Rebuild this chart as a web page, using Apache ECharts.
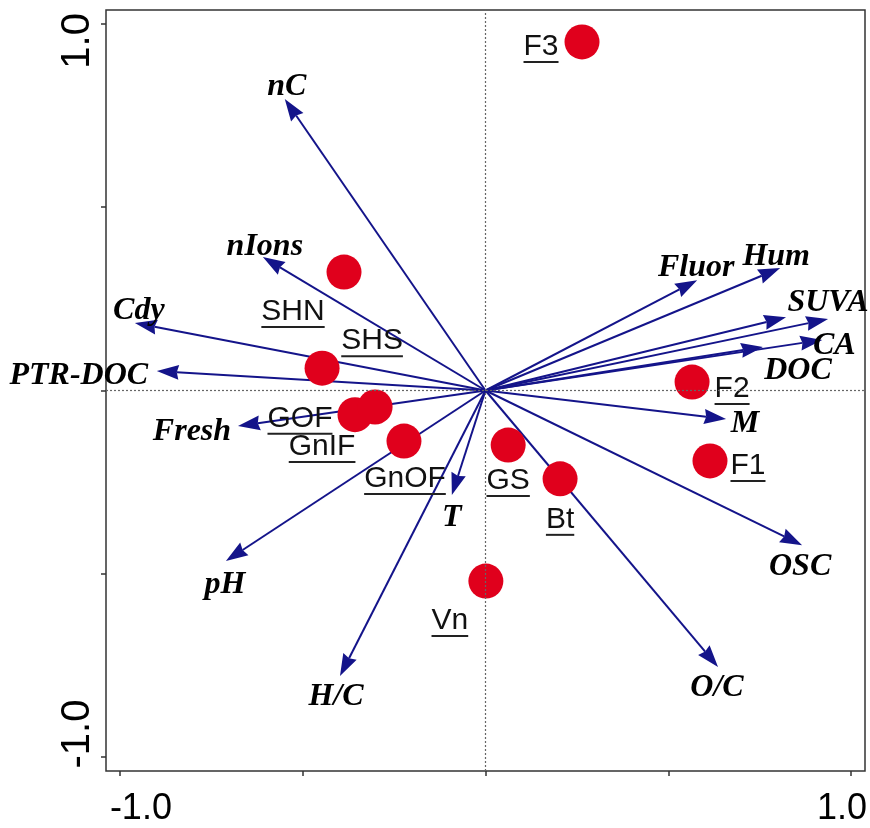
<!DOCTYPE html>
<html><head><meta charset="utf-8">
<script src="https://cdn.jsdelivr.net/npm/echarts@6/dist/echarts.min.js"></script>
<style>html,body{margin:0;padding:0;background:#fff}#c{width:870px;height:828px}</style>
</head><body><div id="c"></div>
<script>
// ---- data ----
const varNames = ['nC','nIons','Cdy','PTR-DOC','Fresh','pH','H/C','T','O/C','OSC','M','DOC','CA','SUVA','','Hum','Fluor'];
const varX = [-0.549,-0.609,-0.959,-0.899,-0.677,-0.710,-0.398,-0.092,0.636,0.866,0.658,0.759,0.921,0.937,0.822,0.806,0.579];
const varY = [0.795,0.364,0.184,0.053,-0.097,-0.465,-0.779,-0.285,-0.754,-0.422,-0.078,0.119,0.138,0.195,0.200,0.334,0.301];

const sampleNames = ['F3','SHN','SHS','GOF','GnIF','GnOF','GS','Bt','Vn','F2','F1'];
const sampleX = [0.264,-0.387,-0.447,-0.357,-0.302,-0.223,0.062,0.204,0.001,0.565,0.614];
const sampleY = [0.951,0.323,0.061,-0.066,-0.045,-0.138,-0.149,-0.241,-0.520,0.023,-0.192];

const tickValues = [-1,-0.5,0,0.5,1];
const tickLabelValues = [-1,1];

// ---- label layout (pixel offsets from mark) ----
const varLabelOffset = [[2,-12],[2,-10],[4,-12],[-78,5],[-46,6],[-1,24],[-4,21],[0,23],[-1,21],[-2,22],[19,5],[35,24],[12,6],[0,-16],[0,0],[-4,-11],[-1,-12]];
const sampleLabelOffset = [[-41,5],[-51,40],[50,-27],[-55,4],[-53,40],[1,38],[0,36],[0,41],[-36,40],[40,7],[38,5]];

const ARROW = '#14148a', RED = '#e0001c';
const varFont = 'italic bold 32px "Liberation Serif", "Times New Roman", serif';
const sampleFont = '30px "Liberation Sans", Arial, sans-serif';

const mctx = document.createElement('canvas').getContext('2d');
function textW(t, f){ mctx.font = f; return mctx.measureText(t).width; }

const chart = echarts.init(document.getElementById('c'), null, {renderer:'canvas'});

const axisCommon = {
  type:'value', min:-1.038, max:1.038,
  axisLine:{show:false, onZero:false}, splitLine:{show:false},
  axisTick:{show:true, inside:false, length:5, customValues:tickValues, lineStyle:{color:'#333', width:1.5}}
};

const option = {
  animation:false,
  backgroundColor:'#fff',
  grid:{left:106, right:5, top:10, bottom:57, show:true, borderColor:'#333', borderWidth:1.5, containLabel:false, outerBoundsMode:'none'},
  xAxis: Object.assign({}, axisCommon, {
    position:'bottom',
    axisLabel:{customValues:tickLabelValues, margin:20,
      formatter: v => v < 0 ? '{a|' + v.toFixed(1) + '}' : '{b|' + v.toFixed(1) + '}',
      rich:{
        a:{fontSize:36, fontFamily:'"Liberation Sans", Arial, sans-serif', color:'#000', padding:[0,0,0,42]},
        b:{fontSize:36, fontFamily:'"Liberation Sans", Arial, sans-serif', color:'#000', padding:[0,18,0,0]}
      }}
  }),
  yAxis: Object.assign({}, axisCommon, {
    position:'left',
    axisLabel:{customValues:tickLabelValues, margin:8, rotate:90,
      formatter: v => v < 0 ? '{a|' + v.toFixed(1) + '}' : '{b|' + v.toFixed(1) + '}',
      rich:{
        a:{fontSize:40, fontFamily:'"Liberation Sans", Arial, sans-serif', color:'#000', padding:[0,0,0,46]},
        b:{fontSize:40, fontFamily:'"Liberation Sans", Arial, sans-serif', color:'#000', padding:[0,34,0,0]}
      }}
  }),
  series:[
    {
      type:'custom', z:2, silent:true,
      data: varX.map((x,i)=>[x, varY[i]]),
      renderItem(params, api){
        const i = params.dataIndex;
        const o = api.coord([0,0]);
        const t = api.coord([api.value(0), api.value(1)]);
        const dx = t[0]-o[0], dy = t[1]-o[1];
        const len = Math.sqrt(dx*dx+dy*dy);
        const ux = dx/len, uy = dy/len;
        const L = 22, W = 15;
        const bx = t[0]-ux*L, by = t[1]-uy*L;
        const px = -uy*W/2, py = ux*W/2;
        const off = varLabelOffset[i];
        const children = [
          {type:'line', shape:{x1:o[0], y1:o[1], x2:bx+ux*2, y2:by+uy*2}, style:{stroke:ARROW, lineWidth:2}},
          {type:'polygon', shape:{points:[[t[0],t[1]],[bx+px,by+py],[bx+ux*2,by+uy*2],[bx-px,by-py]]}, style:{fill:ARROW}}
        ];
        if (varNames[i]) children.push({type:'text', style:{text:varNames[i], x:t[0]+off[0], y:t[1]+off[1], align:'center', verticalAlign:'middle', font:varFont, fill:'#000'}});
        return {type:'group', children};
      }
    },
    {
      type:'scatter', z:3, silent:true,
      data: sampleX.map((x,i)=>[x, sampleY[i]]),
      symbol:'circle', symbolSize:35,
      itemStyle:{color:RED, opacity:1},
      markLine:{silent:true, symbol:'none', label:{show:false},
        lineStyle:{color:'#666', width:1.2, type:[2,2]},
        data:[{xAxis:0},{yAxis:0}]}
    },
    {
      type:'custom', z:4, silent:true,
      data: sampleX.map((x,i)=>[x, sampleY[i]]),
      renderItem(params, api){
        const i = params.dataIndex;
        const p = api.coord([api.value(0), api.value(1)]);
        const off = sampleLabelOffset[i];
        const cx = p[0]+off[0], cy = p[1]+off[1];
        const w = textW(sampleNames[i], sampleFont);
        return {type:'group', children:[
          {type:'text', style:{text:sampleNames[i], x:cx, y:cy, align:'center', verticalAlign:'middle', font:sampleFont, fill:'#111'}},
          {type:'line', shape:{x1:cx-w/2, y1:cy+15, x2:cx+w/2, y2:cy+15}, style:{stroke:'#222', lineWidth:2}}
        ]};
      }
    }
  ]
};
chart.setOption(option);
</script>
</body></html>
